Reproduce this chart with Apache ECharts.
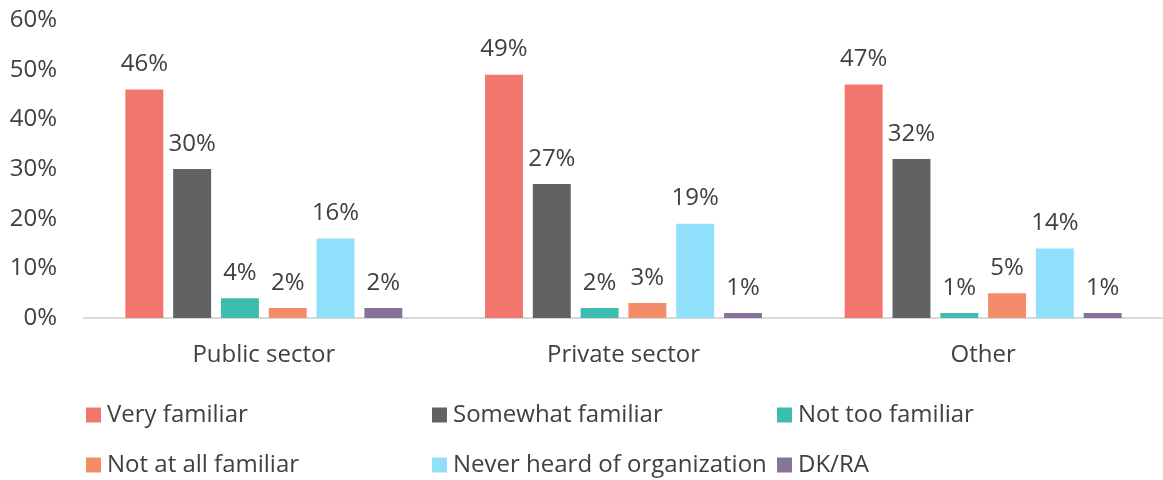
<!DOCTYPE html>
<html>
<head>
<meta charset="utf-8">
<script src="https://cdn.jsdelivr.net/npm/echarts@6/dist/echarts.min.js"></script>
<style>
html, body { margin: 0; padding: 0; background: #fff; }
#main { width: 1163px; height: 480px; }
</style>
</head>
<body>
<div id="main"></div>
<script>
var categories = ['Public sector', 'Private sector', 'Other'];
var seriesNames = ['Very familiar', 'Somewhat familiar', 'Not too familiar',
    'Not at all familiar', 'Never heard of organization', 'DK/RA'];
var veryFamiliar = [46, 49, 47];
var somewhatFamiliar = [30, 27, 32];
var notTooFamiliar = [4, 2, 1];
var notAtAll = [2, 3, 5];
var neverHeard = [16, 19, 14];
var dkRa = [2, 1, 1];
var colors = ['#F2766B', '#616264', '#3CBDB0', '#F28C69', '#90E0FC', '#86739A'];

var values = [veryFamiliar, somewhatFamiliar, notTooFamiliar, notAtAll, neverHeard, dkRa];
var fontFamily = 'Open Sans';
var textColor = '#404040';
var fontSize = 24;

var series = seriesNames.map(function (name, i) {
    return {
        name: name,
        type: 'bar',
        data: values[i],
        itemStyle: { color: colors[i] },
        barGap: '26%',
        barCategoryGap: '23%',
        label: {
            show: true,
            position: 'top',
            distance: 13,
            formatter: '{c}%',
            fontSize: fontSize,
            fontFamily: fontFamily,
            color: textColor
        }
    };
});

// one legend per item so the columns line up like the original
var legendLeft = [81, 427, 772];
var legendTop = [398, 448];
var legends = seriesNames.map(function (name, i) {
    return {
        left: legendLeft[i % 3],
        top: legendTop[Math.floor(i / 3)],
        itemWidth: 15,
        itemHeight: 15,
        icon: 'rect',
        data: [name],
        textStyle: {
            fontSize: fontSize,
            fontFamily: fontFamily,
            color: textColor,
            padding: [0, 0, 0, 1]
        }
    };
});

var myChart = echarts.init(document.getElementById('main'));
var option = {
    animation: false,
    legend: legends,
    grid: {
        top: 20,
        left: 84,
        right: 0,
        bottom: 162,
        containLabel: false
    },
    xAxis: {
        type: 'category',
        data: categories,
        axisLine: { show: true, lineStyle: { color: '#d9d9d9', width: 2 } },
        axisTick: { show: false },
        axisLabel: {
            margin: 25,
            fontSize: fontSize,
            fontFamily: fontFamily,
            color: textColor
        }
    },
    yAxis: {
        type: 'value',
        min: 0,
        max: 60,
        interval: 10,
        splitLine: { show: false },
        axisLine: { show: false },
        axisTick: { show: false },
        axisLabel: {
            margin: 27,
            formatter: '{value}%',
            fontSize: fontSize,
            fontFamily: fontFamily,
            color: textColor
        }
    },
    series: series
};
myChart.setOption(option);
</script>
</body>
</html>
